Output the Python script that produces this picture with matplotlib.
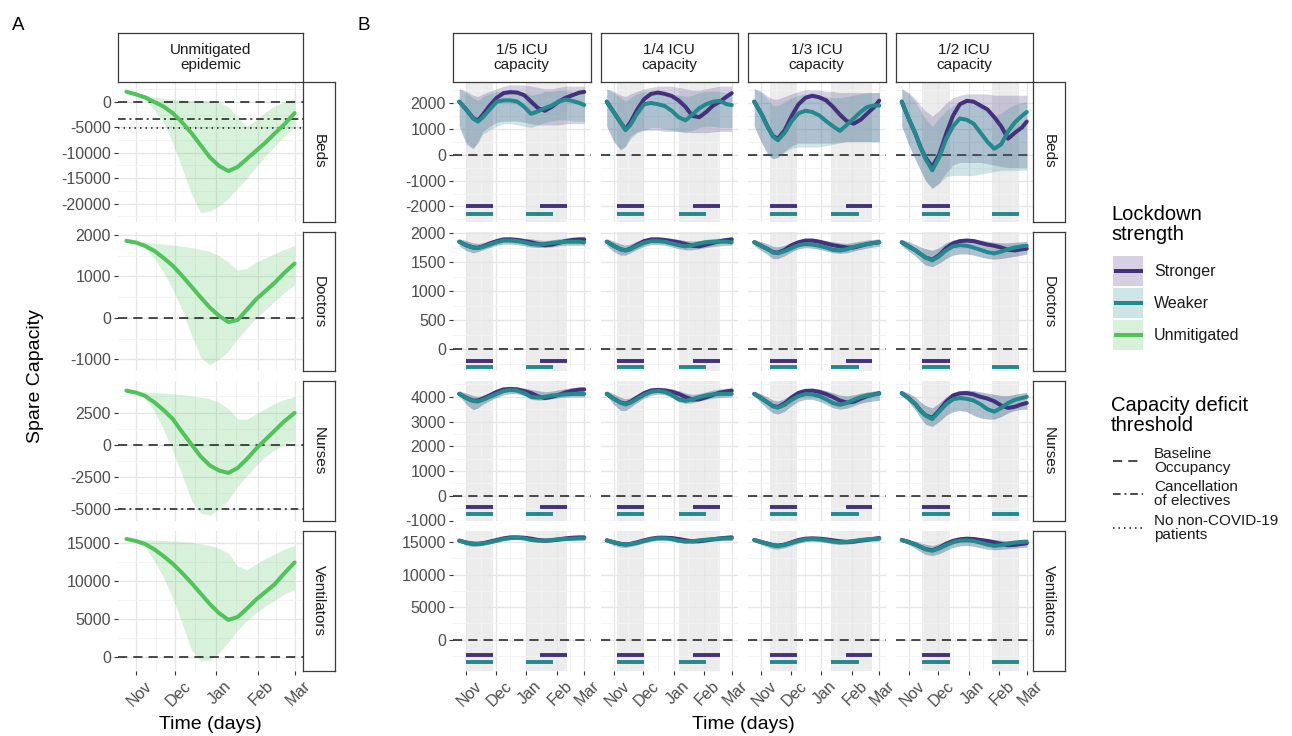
import numpy as np
import matplotlib
matplotlib.use('Agg')
import matplotlib.pyplot as plt
import matplotlib.dates as mdates
from matplotlib.patches import Rectangle
from matplotlib.transforms import ScaledTranslation

plt.rcParams['font.family'] = ['Liberation Sans', 'DejaVu Sans']

W, H = 1292, 736

# ---------------- data ----------------
# panel A: unmitigated epidemic
a_dates = ['2020-10-25', '2020-11-01', '2020-11-08', '2020-11-15', '2020-11-22', '2020-11-29',
           '2020-12-06', '2020-12-13', '2020-12-20', '2020-12-27', '2021-01-03', '2021-01-10',
           '2021-01-17', '2021-01-24', '2021-01-31', '2021-02-07', '2021-02-14', '2021-02-21',
           '2021-03-01']
a_beds = [2000, 1500, 900, 0, -900, -2200, -4000, -6100, -8500, -10900, -12600, -13600,
          -12800, -11200, -9600, -8000, -6200, -4500, -2200]
a_beds_lo = [2000, 1300, 300, -1500, -4000, -8000, -13000, -18000, -21800, -21500, -20500,
             -19000, -17000, -15000, -12800, -10700, -8700, -6800, -5000]
a_beds_hi = [2000, 1800, 1400, 1000, 700, 500, 400, 300, 300, 200, 0, -1000, -3000, -4800,
             -3500, -2000, -800, 0, 700]
a_doctors = [1860, 1820, 1740, 1620, 1450, 1260, 1020, 760, 500, 250, 50, -100, -50, 200, 450,
             650, 850, 1080, 1310]
a_doctors_lo = [1860, 1800, 1680, 1450, 1100, 700, 200, -400, -950, -1130, -1000, -800, -500,
                -250, 0, 200, 400, 600, 800]
a_doctors_hi = [1860, 1850, 1830, 1800, 1780, 1760, 1730, 1700, 1650, 1600, 1500, 1350, 1150,
                1200, 1350, 1450, 1550, 1650, 1750]
a_nurses = [4200, 4050, 3800, 3300, 2700, 2000, 1000, 50, -900, -1600, -2000, -2180, -1800,
            -1100, -300, 400, 1100, 1800, 2470]
a_nurses_lo = [4200, 4000, 3600, 2600, 1200, -500, -2300, -4300, -5300, -5450, -5000, -4300,
               -3200, -2400, -1600, -900, -400, 0, 300]
a_nurses_hi = [4200, 4150, 4100, 4050, 4000, 3950, 3900, 3800, 3700, 3550, 3300, 2800, 2000,
               2000, 2400, 2800, 3200, 3500, 3750]
a_vents = [15550, 15300, 14900, 14200, 13300, 12300, 11100, 9800, 8400, 7000, 5800, 4920, 5300,
           6400, 7600, 8600, 9600, 11000, 12460]
a_vents_lo = [15550, 15200, 14500, 12700, 10500, 7800, 4500, 1000, -500, -400, 600, 2000, 3600,
              4800, 5900, 6700, 7500, 8300, 8900]
a_vents_hi = [15550, 15500, 15450, 15400, 15350, 15300, 15200, 15100, 14900, 14700, 14300,
              13700, 12000, 11500, 12300, 13000, 13600, 14200, 14700]

# panel B: lockdown scenarios (columns = ICU capacity trigger)
b_cols = ['1/5 ICU\ncapacity', '1/4 ICU\ncapacity', '1/3 ICU\ncapacity', '1/2 ICU\ncapacity']
b_dates = ['2020-10-25', '2020-11-01', '2020-11-08', '2020-11-13', '2020-11-18', '2020-11-25',
           '2020-12-02', '2020-12-09', '2020-12-16', '2020-12-23', '2020-12-30', '2021-01-06',
           '2021-01-13', '2021-01-20', '2021-01-27', '2021-02-03', '2021-02-10', '2021-02-17',
           '2021-02-24', '2021-03-01']

beds_strong = [
    [2050, 1750, 1420, 1320, 1550, 1900, 2200, 2380, 2420, 2400, 2300, 2050, 1800, 1700, 1850, 2050, 2200, 2300, 2400, 2430],
    [2050, 1650, 1250, 980, 1250, 1750, 2150, 2350, 2400, 2350, 2270, 2100, 1850, 1500, 1450, 1650, 1900, 2050, 2250, 2380],
    [2050, 1600, 1050, 720, 620, 950, 1500, 1950, 2200, 2280, 2220, 2100, 1850, 1550, 1300, 1200, 1350, 1600, 1850, 2090],
    [2050, 1400, 800, 300, -100, -470, 0, 800, 1500, 1950, 2080, 2050, 1900, 1750, 1450, 1100, 620, 850, 1050, 1280],
]
beds_weak = [
    [2050, 1750, 1400, 1280, 1450, 1750, 2050, 2100, 2100, 2050, 1850, 1580, 1680, 1800, 1900, 2050, 2130, 2080, 2000, 1920],
    [2050, 1650, 1250, 950, 1150, 1600, 1950, 2000, 1950, 1880, 1700, 1450, 1330, 1550, 1800, 1950, 2050, 2080, 1950, 1920],
    [2050, 1600, 1050, 700, 560, 850, 1300, 1600, 1700, 1650, 1520, 1300, 1100, 920, 1150, 1400, 1650, 1850, 1900, 1900],
    [2050, 1400, 800, 300, -150, -600, -100, 600, 1100, 1400, 1350, 1200, 850, 500, 230, 400, 900, 1250, 1500, 1650],
]
beds_strong_lo = [
    [1100, 400, 230, 500, 900, 1100, 1250, 1300, 1300, 1300, 1250, 1200, 1150, 1150, 1150, 1150, 1200, 1200, 1200, 1200],
    [1100, 500, 180, 350, 700, 900, 950, 950, 950, 900, 900, 900, 880, 850, 850, 850, 880, 900, 900, 900],
    [1100, 500, 0, -150, -100, 150, 350, 450, 450, 450, 450, 450, 450, 480, 500, 500, 500, 500, 500, 500],
    [1100, 400, -200, -600, -1000, -1300, -1100, -700, -400, -300, -300, -300, -300, -350, -400, -450, -500, -500, -500, -500],
]
beds_strong_hi = [
    [2550, 2450, 2300, 2250, 2350, 2450, 2550, 2650, 2700, 2700, 2700, 2650, 2600, 2550, 2550, 2600, 2650, 2650, 2650, 2650],
    [2550, 2450, 2300, 2250, 2350, 2450, 2550, 2600, 2650, 2650, 2650, 2600, 2550, 2500, 2500, 2550, 2600, 2650, 2650, 2650],
    [2550, 2450, 2250, 2150, 2150, 2250, 2350, 2450, 2500, 2500, 2500, 2450, 2450, 2400, 2400, 2400, 2400, 2400, 2400, 2400],
    [2550, 2400, 2150, 1900, 1700, 1500, 1700, 2000, 2200, 2300, 2350, 2350, 2350, 2350, 2300, 2300, 2300, 2300, 2300, 2300],
]
beds_weak_lo = [
    [1100, 500, 250, 450, 800, 950, 1100, 1200, 1200, 1150, 1100, 1050, 1150, 1250, 1300, 1350, 1350, 1300, 1300, 1300],
    [1100, 550, 200, 300, 600, 850, 950, 1050, 1050, 1000, 950, 900, 850, 950, 1050, 1100, 1100, 1050, 1050, 1050],
    [1100, 500, 0, -150, -100, 100, 250, 300, 300, 300, 300, 350, 400, 450, 500, 500, 500, 500, 500, 500],
    [1100, 400, -200, -600, -1000, -1300, -1100, -850, -800, -800, -800, -800, -750, -700, -650, -600, -600, -600, -600, -600],
]
beds_weak_hi = [
    [2550, 2400, 2200, 2100, 2250, 2350, 2450, 2450, 2450, 2450, 2400, 2300, 2350, 2450, 2450, 2500, 2500, 2450, 2400, 2400],
    [2550, 2400, 2200, 2050, 2200, 2350, 2450, 2450, 2400, 2400, 2350, 2300, 2250, 2300, 2400, 2450, 2450, 2450, 2400, 2400],
    [2550, 2400, 2150, 1900, 1900, 2050, 2200, 2300, 2350, 2350, 2300, 2250, 2200, 2200, 2250, 2300, 2350, 2400, 2400, 2400],
    [2550, 2350, 2050, 1700, 1400, 1100, 1400, 1700, 1900, 2000, 2000, 1950, 1850, 1700, 1500, 1600, 1800, 1950, 2000, 2050],
]

doctors_strong = [
    [1850, 1790, 1750, 1745, 1770, 1820, 1860, 1890, 1890, 1880, 1860, 1840, 1810, 1790, 1800, 1830, 1860, 1880, 1890, 1890],
    [1850, 1780, 1720, 1700, 1730, 1800, 1860, 1890, 1890, 1880, 1860, 1840, 1810, 1780, 1770, 1800, 1830, 1860, 1880, 1890],
    [1840, 1780, 1720, 1670, 1660, 1710, 1790, 1840, 1870, 1870, 1850, 1820, 1790, 1770, 1750, 1750, 1780, 1810, 1830, 1840],
    [1840, 1770, 1700, 1640, 1580, 1540, 1620, 1740, 1820, 1860, 1870, 1860, 1830, 1800, 1780, 1750, 1710, 1700, 1720, 1730],
]
doctors_weak = [
    [1850, 1790, 1750, 1740, 1760, 1800, 1840, 1870, 1870, 1860, 1840, 1810, 1800, 1810, 1830, 1840, 1850, 1850, 1850, 1840],
    [1850, 1780, 1720, 1700, 1720, 1780, 1830, 1860, 1860, 1850, 1820, 1790, 1770, 1790, 1820, 1840, 1850, 1850, 1850, 1840],
    [1840, 1780, 1720, 1670, 1650, 1690, 1740, 1790, 1810, 1800, 1780, 1750, 1710, 1700, 1720, 1760, 1790, 1810, 1830, 1840],
    [1840, 1770, 1700, 1640, 1580, 1530, 1600, 1700, 1770, 1790, 1780, 1750, 1710, 1670, 1650, 1680, 1720, 1750, 1770, 1780],
]
doctors_lo = [
    [1780, 1700, 1660, 1680, 1710, 1750, 1790, 1810, 1810, 1800, 1780, 1760, 1750, 1750, 1760, 1780, 1790, 1790, 1790, 1790],
    [1780, 1680, 1620, 1620, 1660, 1720, 1770, 1800, 1800, 1790, 1760, 1730, 1710, 1710, 1730, 1750, 1770, 1780, 1790, 1790],
    [1780, 1700, 1620, 1560, 1560, 1610, 1680, 1730, 1750, 1740, 1720, 1690, 1660, 1650, 1660, 1690, 1720, 1740, 1760, 1770],
    [1780, 1690, 1600, 1520, 1450, 1420, 1480, 1560, 1620, 1640, 1640, 1620, 1590, 1560, 1550, 1560, 1580, 1600, 1620, 1640],
]
doctors_hi = [
    [1900, 1870, 1830, 1820, 1830, 1860, 1900, 1920, 1930, 1920, 1910, 1900, 1880, 1870, 1880, 1900, 1910, 1930, 1930, 1930],
    [1900, 1860, 1810, 1790, 1810, 1860, 1900, 1920, 1930, 1920, 1910, 1890, 1870, 1860, 1870, 1890, 1900, 1910, 1920, 1930],
    [1890, 1850, 1810, 1770, 1760, 1790, 1840, 1880, 1900, 1900, 1890, 1870, 1850, 1830, 1820, 1840, 1860, 1880, 1890, 1900],
    [1890, 1850, 1800, 1760, 1730, 1700, 1750, 1830, 1880, 1900, 1910, 1900, 1880, 1860, 1840, 1830, 1830, 1840, 1850, 1860],
]

nurses_strong = [
    [4120, 3960, 3850, 3850, 3930, 4060, 4200, 4300, 4320, 4300, 4230, 4150, 4020, 3950, 4000, 4080, 4180, 4250, 4290, 4300],
    [4120, 3930, 3770, 3720, 3800, 3980, 4150, 4260, 4280, 4260, 4210, 4120, 3990, 3890, 3900, 3980, 4080, 4170, 4220, 4250],
    [4120, 3950, 3760, 3630, 3590, 3740, 3980, 4160, 4240, 4250, 4200, 4110, 3990, 3850, 3770, 3800, 3920, 4030, 4100, 4150],
    [4150, 3950, 3700, 3450, 3260, 3150, 3450, 3800, 4050, 4140, 4150, 4100, 4000, 3930, 3820, 3650, 3550, 3600, 3700, 3750],
]
nurses_weak = [
    [4120, 3950, 3830, 3810, 3880, 4000, 4120, 4230, 4280, 4250, 4150, 4000, 3970, 4000, 4050, 4080, 4100, 4120, 4120, 4120],
    [4120, 3930, 3760, 3690, 3760, 3920, 4080, 4200, 4240, 4200, 4080, 3900, 3840, 3900, 3990, 4060, 4100, 4120, 4120, 4120],
    [4120, 3950, 3760, 3620, 3560, 3680, 3880, 4030, 4110, 4100, 4030, 3900, 3750, 3680, 3750, 3880, 3990, 4060, 4100, 4120],
    [4150, 3950, 3700, 3450, 3250, 3100, 3400, 3700, 3900, 3950, 3920, 3850, 3700, 3500, 3400, 3550, 3750, 3880, 3950, 4000],
]
nurses_lo = [
    [4050, 3700, 3480, 3550, 3700, 3850, 3980, 4080, 4130, 4120, 4050, 3900, 3870, 3880, 3920, 3960, 3990, 4000, 4000, 4000],
    [4050, 3700, 3450, 3450, 3580, 3780, 3950, 4060, 4110, 4080, 3980, 3800, 3740, 3760, 3830, 3900, 3950, 3980, 3990, 4000],
    [4050, 3750, 3500, 3350, 3300, 3420, 3650, 3820, 3900, 3900, 3820, 3700, 3560, 3500, 3540, 3640, 3740, 3800, 3840, 3860],
    [4050, 3800, 3450, 3150, 2900, 2800, 3000, 3250, 3400, 3450, 3400, 3250, 3150, 3100, 3100, 3200, 3350, 3450, 3500, 3500],
]
nurses_hi = [
    [4250, 4150, 4050, 4020, 4060, 4150, 4270, 4360, 4400, 4400, 4360, 4300, 4250, 4200, 4230, 4280, 4330, 4370, 4400, 4400],
    [4250, 4120, 3980, 3920, 3960, 4100, 4240, 4330, 4370, 4360, 4320, 4250, 4150, 4100, 4130, 4200, 4270, 4320, 4350, 4370],
    [4230, 4120, 3980, 3870, 3830, 3930, 4100, 4250, 4330, 4350, 4320, 4250, 4160, 4070, 4040, 4080, 4150, 4200, 4240, 4260],
    [4250, 4150, 3980, 3800, 3650, 3550, 3750, 4000, 4180, 4250, 4270, 4250, 4200, 4150, 4100, 4050, 4050, 4100, 4150, 4180],
]

vents_strong = [
    [15200, 14900, 14720, 14720, 14800, 15050, 15300, 15550, 15700, 15700, 15650, 15500, 15300, 15200, 15250, 15400, 15550, 15650, 15700, 15700],
    [15250, 14950, 14700, 14620, 14700, 14950, 15250, 15500, 15650, 15650, 15600, 15450, 15250, 15100, 15100, 15250, 15400, 15550, 15650, 15700],
    [15300, 15000, 14700, 14500, 14420, 14600, 14950, 15300, 15500, 15550, 15500, 15400, 15250, 15100, 15000, 15050, 15200, 15350, 15500, 15600],
    [15300, 15000, 14600, 14250, 13920, 13700, 14100, 14700, 15150, 15400, 15500, 15450, 15300, 15150, 14950, 14700, 14500, 14550, 14700, 14800],
]
vents_weak = [
    [15200, 14900, 14700, 14680, 14750, 14950, 15200, 15450, 15600, 15650, 15550, 15300, 15200, 15200, 15300, 15400, 15450, 15500, 15550, 15550],
    [15250, 14950, 14700, 14600, 14650, 14850, 15150, 15400, 15550, 15550, 15450, 15200, 15050, 15100, 15250, 15350, 15450, 15500, 15550, 15550],
    [15300, 15000, 14700, 14500, 14400, 14550, 14850, 15150, 15400, 15450, 15400, 15250, 15050, 14950, 15000, 15150, 15300, 15400, 15450, 15500],
    [15300, 15000, 14600, 14250, 13900, 13650, 14000, 14500, 14950, 15200, 15250, 15150, 14900, 14600, 14400, 14500, 14750, 14900, 15000, 15050],
]
vents_lo = [
    [15000, 14500, 14300, 14350, 14500, 14700, 14950, 15200, 15350, 15400, 15300, 15100, 15000, 14950, 15000, 15100, 15200, 15250, 15300, 15300],
    [15000, 14500, 14200, 14150, 14300, 14550, 14850, 15100, 15250, 15250, 15150, 14950, 14800, 14800, 14900, 15000, 15100, 15200, 15250, 15250],
    [15050, 14600, 14200, 13950, 13900, 14100, 14450, 14800, 15050, 15100, 15050, 14900, 14700, 14600, 14650, 14800, 14950, 15050, 15100, 15150],
    [15050, 14600, 14000, 13500, 13100, 12900, 13200, 13700, 14150, 14400, 14450, 14350, 14100, 13900, 13800, 13850, 13950, 14050, 14150, 14200],
]
vents_hi = [
    [15500, 15300, 15150, 15100, 15150, 15300, 15550, 15800, 15950, 16000, 15950, 15800, 15600, 15550, 15600, 15700, 15800, 15900, 15950, 15950],
    [15500, 15300, 15100, 15000, 15050, 15250, 15500, 15750, 15900, 15950, 15900, 15750, 15550, 15450, 15500, 15600, 15750, 15850, 15900, 15950],
    [15500, 15350, 15150, 14950, 14850, 14950, 15250, 15550, 15800, 15850, 15800, 15700, 15550, 15400, 15350, 15400, 15550, 15700, 15800, 15850],
    [15550, 15350, 15100, 14850, 14650, 14450, 14750, 15200, 15550, 15750, 15800, 15750, 15650, 15500, 15350, 15250, 15200, 15250, 15350, 15400],
]

# lockdown periods (start, end) per column
lock_strong = [
    [('2020-11-01', '2020-11-28'), ('2021-01-15', '2021-02-11')],
    [('2020-11-04', '2020-12-02'), ('2021-01-21', '2021-02-17')],
    [('2020-11-10', '2020-12-07'), ('2021-01-26', '2021-02-22')],
    [('2020-11-15', '2020-12-13')],
]
lock_weak = [
    [('2020-11-01', '2020-11-28'), ('2021-01-01', '2021-01-28')],
    [('2020-11-04', '2020-12-02'), ('2021-01-06', '2021-02-03')],
    [('2020-11-10', '2020-12-07'), ('2021-01-11', '2021-02-08')],
    [('2020-11-15', '2020-12-13'), ('2021-01-25', '2021-02-21')],
]
lock_shade = [
    [('2020-11-01', '2020-11-28'), ('2021-01-01', '2021-02-11')],
    [('2020-11-04', '2020-12-02'), ('2021-01-06', '2021-02-17')],
    [('2020-11-10', '2020-12-07'), ('2021-01-11', '2021-02-22')],
    [('2020-11-15', '2020-12-13'), ('2021-01-25', '2021-02-21')],
]

# capacity deficit thresholds (row: list of (value, style))
rows = ['Beds', 'Doctors', 'Nurses', 'Ventilators']
thr_a = {'Beds': [(0, 'base'), (-3300, 'elec'), (-5100, 'nocovid')],
         'Doctors': [(0, 'base')],
         'Nurses': [(0, 'base'), (-5000, 'elec')],
         'Ventilators': [(0, 'base')]}

# ---------------- style ----------------
c_strong = '#45307E'
c_weak = '#22898D'
c_unmit = '#50C35A'
rib_alpha = 0.22
shade_col = '#D6D6D6'
ls_map = {'base': (0, (6, 4)), 'elec': (0, (5, 2.5, 1.3, 2.5)), 'nocovid': (0, (1, 2.6))}

ylim_a = {'Beds': (-23530, 3920), 'Doctors': (-1293, 2073),
          'Nurses': (-5870, 4945), 'Ventilators': (-1730, 16600)}
yt_a = {'Beds': [-20000, -15000, -10000, -5000, 0], 'Doctors': [-1000, 0, 1000, 2000],
        'Nurses': [-5000, -2500, 0, 2500], 'Ventilators': [0, 5000, 10000, 15000]}
ylim_b = {'Beds': (-2580, 2810), 'Doctors': (-383, 2017),
          'Nurses': (-920, 4640), 'Ventilators': (-4740, 16680)}
yt_b = {'Beds': [-2000, -1000, 0, 1000, 2000], 'Doctors': [0, 500, 1000, 1500, 2000],
        'Nurses': [-1000, 0, 1000, 2000, 3000, 4000], 'Ventilators': [0, 5000, 10000, 15000]}
bar_y = {'Beds': (-2000, -2300), 'Doctors': (-200, -310),
         'Nurses': (-440, -720), 'Ventilators': (-2300, -3500)}

b_data = {
    'Beds': (beds_strong, beds_weak, beds_strong_lo, beds_strong_hi, beds_weak_lo, beds_weak_hi),
    'Doctors': (doctors_strong, doctors_weak, doctors_lo, doctors_hi, doctors_lo, doctors_hi),
    'Nurses': (nurses_strong, nurses_weak, nurses_lo, nurses_hi, nurses_lo, nurses_hi),
    'Ventilators': (vents_strong, vents_weak, vents_lo, vents_hi, vents_lo, vents_hi),
}
a_data = {'Beds': (a_beds, a_beds_lo, a_beds_hi),
          'Doctors': (a_doctors, a_doctors_lo, a_doctors_hi),
          'Nurses': (a_nurses, a_nurses_lo, a_nurses_hi),
          'Ventilators': (a_vents, a_vents_lo, a_vents_hi)}

dn = mdates.datestr2num
xa = dn(a_dates)
xb = dn(b_dates)
x0, x1 = dn('2020-10-25'), dn('2021-03-01')
pad = (x1 - x0) * 0.05
month_ticks = dn(['2020-11-01', '2020-12-01', '2021-01-01', '2021-02-01', '2021-03-01'])
month_minor = dn(['2020-11-16', '2020-12-16', '2021-01-16', '2021-02-15'])
month_labels = ['Nov', 'Dec', 'Jan', 'Feb', 'Mar']

fig = plt.figure(figsize=(W / 100, H / 100), dpi=100)
shift = ScaledTranslation(3.5 / 100, -1 / 100, fig.dpi_scale_trans)


def add_px_axes(left, top, right, bottom):
    return fig.add_axes([left / W, 1 - bottom / H, (right - left) / W, (bottom - top) / H])


def style_panel(ax, ylim, yticks, show_y, show_x):
    ax.set_xlim(x0 - pad, x1 + pad)
    ax.set_ylim(*ylim)
    ax.set_xticks(month_ticks)
    ax.set_xticks(month_minor, minor=True)
    ax.set_yticks(yticks)
    step = yticks[1] - yticks[0]
    ym = [t + step / 2 for t in [yticks[0] - step] + list(yticks)]
    ax.set_yticks([v for v in ym if ylim[0] < v < ylim[1]], minor=True)
    ax.grid(which='major', color='#E6E6E6', lw=0.9)
    ax.grid(which='minor', color='#F2F2F2', lw=0.6)
    ax.set_axisbelow(True)
    for s in ax.spines.values():
        s.set_visible(False)
    ax.tick_params(which='major', length=3, width=0.8, color='#333333',
                   labelcolor='#4D4D4D', labelsize=11.5, pad=2)
    ax.tick_params(which='minor', length=0)
    if show_y:
        ax.set_yticklabels([str(t) for t in yticks])
    else:
        ax.tick_params(axis='y', which='major', length=0, labelleft=False)
    if show_x:
        labs = ax.set_xticklabels(month_labels, rotation=45, ha='center', va='top')
        for lab in labs:
            lab.set_transform(lab.get_transform() + shift)
    else:
        ax.tick_params(axis='x', which='major', length=0, labelbottom=False)


def strip(left, top, right, bottom, text, rot=0):
    sa = add_px_axes(left, top, right, bottom)
    sa.set_xticks([])
    sa.set_yticks([])
    for s in sa.spines.values():
        s.set_color('#3A3A3A')
        s.set_linewidth(0.9)
    sa.text(0.5, 0.5, text, ha='center', va='center', rotation=rot, fontsize=11,
            color='#1A1A1A', transform=sa.transAxes, linespacing=1.1)


row_top = [82, 232, 381, 531]
row_h = 139.5

# ---------------- panel A ----------------
for i, r in enumerate(rows):
    t = row_top[i]
    ax = add_px_axes(118, t, 303, t + row_h)
    mean, lo, hi = a_data[r]
    ax.fill_between(xa, lo, hi, color=c_unmit, alpha=rib_alpha, lw=0)
    for val, st in thr_a[r]:
        ax.axhline(val, color='#1A1A1A', lw=1.1, linestyle=ls_map[st])
    ax.plot(xa, mean, color=c_unmit, lw=2.9, solid_joinstyle='round', solid_capstyle='round')
    style_panel(ax, ylim_a[r], yt_a[r], True, i == 3)
    strip(303, t, 335, t + row_h, r, rot=-90)
strip(118, 33, 303, 82, 'Unmitigated\nepidemic')

# ---------------- panel B ----------------
col_left = [453, 600.5, 748, 895.5]
col_w = 137.5
for i, r in enumerate(rows):
    t = row_top[i]
    s_mean, w_mean, s_lo, s_hi, w_lo, w_hi = b_data[r]
    ys, yw = bar_y[r]
    for j in range(4):
        ax = add_px_axes(col_left[j], t, col_left[j] + col_w, t + row_h)
        for a, b in lock_shade[j]:
            ax.axvspan(dn(a), dn(b), color=shade_col, alpha=0.45, lw=0, zorder=0.5)
        ax.axhline(0, color='#1A1A1A', lw=1.1, linestyle=ls_map['base'], zorder=1)
        ax.fill_between(xb, s_lo[j], s_hi[j], color=c_strong, alpha=rib_alpha, lw=0, zorder=2)
        ax.fill_between(xb, w_lo[j], w_hi[j], color=c_weak, alpha=rib_alpha, lw=0, zorder=2)
        ax.plot(xb, s_mean[j], color=c_strong, lw=2.9, solid_joinstyle='round',
                solid_capstyle='round', zorder=3)
        ax.plot(xb, w_mean[j], color=c_weak, lw=2.9, solid_joinstyle='round',
                solid_capstyle='round', zorder=3)
        for a, b in lock_strong[j]:
            ax.hlines(ys, dn(a), dn(b), color=c_strong, lw=2.8, zorder=3)
        for a, b in lock_weak[j]:
            ax.hlines(yw, dn(a), dn(b), color=c_weak, lw=2.8, zorder=3)
        style_panel(ax, ylim_b[r], yt_b[r], j == 0, i == 3)
        if i == 0:
            strip(col_left[j], 33, col_left[j] + col_w, 82, b_cols[j])
    strip(1033, t, 1065, t + row_h, r, rot=-90)

# ---------------- labels ----------------
fig.text(12 / W, 1 - 30 / H, 'A', fontsize=13.5, ha='left', va='baseline')
fig.text(357 / W, 1 - 30 / H, 'B', fontsize=13.5, ha='left', va='baseline')
fig.text(36 / W, 1 - 376 / H, 'Spare Capacity', fontsize=14, rotation=90, ha='center', va='center')
fig.text(210 / W, 1 - 716 / H, 'Time (days)', fontsize=14, ha='center', va='top')
fig.text(743 / W, 1 - 716 / H, 'Time (days)', fontsize=14, ha='center', va='top')

# ---------------- legend ----------------
lg = add_px_axes(1090, 190, 1292, 560)
lg.set_xlim(1090, 1292)
lg.set_ylim(560, 190)
lg.axis('off')
lg.text(1111, 205, 'Lockdown\nstrength', fontsize=14.5, va='top', ha='left', linespacing=1.05)
keys = [('Stronger', c_strong, 256), ('Weaker', c_weak, 288), ('Unmitigated', c_unmit, 320)]
for lab, col, ky in keys:
    lg.add_patch(Rectangle((1113, ky), 30, 30, facecolor=col, alpha=rib_alpha, lw=0))
    lg.plot([1115.5, 1140.5], [ky + 15, ky + 15], color=col, lw=2.9)
    lg.text(1154, ky + 15, lab, fontsize=11.5, va='center', ha='left', color='#1A1A1A')
lg.text(1111, 396, 'Capacity deficit\nthreshold', fontsize=14.5, va='top', ha='left', linespacing=1.05)
lkeys = [('Baseline\nOccupancy', 'base', 461), ('Cancellation\nof electives', 'elec', 494),
         ('No non-COVID-19\npatients', 'nocovid', 528)]
for lab, st, ky in lkeys:
    lg.plot([1113, 1143], [ky, ky], color='#1A1A1A', lw=1.1, linestyle=ls_map[st])
    lg.text(1154, ky, lab, fontsize=11, va='center', ha='left', color='#1A1A1A', linespacing=1.0)

fig.savefig('out.png', dpi=100)
